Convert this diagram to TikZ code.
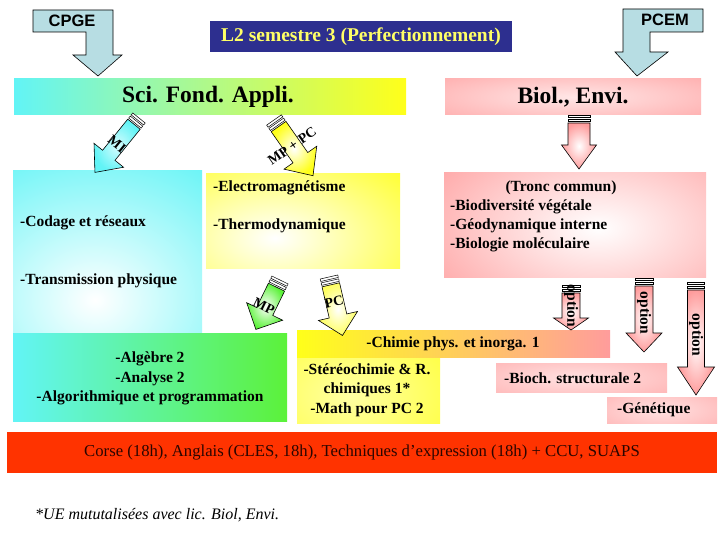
\documentclass[tikz,border=0pt]{standalone}
\usepackage{fontspec}
\setmainfont{Liberation Serif}
\newfontfamily\sansfam{Liberation Sans}
\definecolor{cyanc}{HTML}{62F4F6}
\definecolor{cyanl}{HTML}{D8FCFE}
\definecolor{yellowc}{HTML}{FFFF1A}
\definecolor{pinkc}{HTML}{FF9C9C}
\definecolor{greenc}{HTML}{5CF23A}
\definecolor{orangec}{HTML}{FFC27A}
\definecolor{scimid}{HTML}{E4FFDC}
\definecolor{titleblue}{HTML}{2D2F8F}
\definecolor{titleyellow}{HTML}{FFFF66}
\definecolor{arrowblue}{HTML}{B7DDE3}
\definecolor{redc}{HTML}{FF3300}
\definecolor{bartext}{HTML}{2A0500}

\newcommand{\blockarr}[8]{%
  \begin{scope}[shift={(#1,#2)},rotate=#3]
    \path[#8] (8,#5) -- ({#4-#7},#5) -- ({#4-#7},#6) -- (#4,0) -- ({#4-#7},-#6) -- ({#4-#7},-#5) -- (8,-#5) -- cycle;
    \draw[stripe] (0,#5) rectangle (2.5,-#5);
    \draw[stripe] (4,#5) rectangle (6.5,-#5);
  \end{scope}}

\newcommand{\hlbox}[7]{%
  \fill[#3] #1 rectangle #2;
  \begin{scope}
    \clip #1 rectangle #2;
    \shade[inner color=#4, outer color=#3] #5 ellipse (#6pt and #7pt);
  \end{scope}}

\begin{document}
\begin{tikzpicture}[x=1pt,y=-1pt,
  bodytxt/.style={font=\bfseries\fontsize{15.5pt}{19.5pt}\selectfont, inner sep=0pt},
  bigtxt/.style={font=\bfseries\fontsize{23.5pt}{28pt}\selectfont, inner sep=0pt},
  arrlbl/.style={font=\bfseries\fontsize{14pt}{16pt}\selectfont, inner sep=0pt},
  sanslbl/.style={font=\sansfam\bfseries\fontsize{16.5pt}{18pt}\selectfont, inner sep=0pt},
  stripe/.style={draw=black, line width=0.5pt, fill=white},
  outl/.style={draw=black, line width=0.6pt}]
\useasboundingbox (0,0) rectangle (720,540);
\fill[white] (0,0) rectangle (720,540);

% ---- bars and boxes
\path[left color=cyanc, middle color=scimid, right color=yellowc] (14,79) rectangle (406,115);
\hlbox{(445,79)}{(701,115)}{pinkc}{pinkc!25!white}{(573,97)}{240}{40}
\hlbox{(13,171)}{(202,333)}{cyanc}{white}{(95,300)}{200}{170}
\hlbox{(206,174)}{(400,268)}{yellowc}{white}{(275,238)}{190}{110}
\hlbox{(444,173)}{(706,277)}{pinkc}{white}{(598,228)}{220}{120}
\path[left color=cyanc, right color=greenc] (13,333) rectangle (287,421);
\hlbox{(297,330)}{(440,423)}{yellowc}{yellowc!40!white}{(350,395)}{160}{110}
\path[left color=yellowc, middle color=orangec, right color=pinkc] (297,330) rectangle (610,357);
\hlbox{(496,363)}{(667,392)}{pinkc}{pinkc!30!white}{(575,378)}{200}{40}
\hlbox{(607,397)}{(717,423)}{pinkc}{pinkc!30!white}{(660,410)}{130}{40}
\fill[redc] (7,432) rectangle (717,473);

% ---- entry arrows
\draw[outl, fill=arrowblue] (33,10) -- (113,10) -- (113,55) -- (122,55) -- (98,76) -- (73,55) -- (86,55) -- (86,32) -- (33,32) -- cycle;
\draw[outl, fill=arrowblue] (623,9) -- (703,9) -- (703,32) -- (650,32) -- (650,52) -- (668,52) -- (637,76) -- (615,52) -- (623,52) -- cycle;

% ---- block arrows
\blockarr{139}{118}{231}{70}{8}{19}{22}{outl, inner color=cyanl, outer color=cyanc}
\blockarr{274}{120}{305}{68}{9}{20}{22}{outl, inner color=white, outer color=yellowc}
\blockarr{280}{280}{244}{55}{9}{20}{20}{outl, inner color=white, outer color=greenc}
\blockarr{329}{277}{283}{60}{9}{20}{20}{outl, inner color=white, outer color=yellowc!70!white}
\blockarr{579}{115}{270}{54}{11}{17.5}{24}{outl, inner color=white, outer color=pinkc}
\blockarr{571}{285}{270}{45}{9}{17.5}{12}{outl, inner color=white, outer color=pinkc}
\blockarr{644}{278}{270}{74}{9}{18}{19}{outl, inner color=white, outer color=pinkc}
\blockarr{696}{282}{270}{113}{8.5}{18.5}{28}{outl, inner color=white, outer color=pinkc}

% ---- texts
\node[sanslbl] (cpge) at (72,21) {CPGE};
\node[sanslbl] (pcem) at (665,20) {PCEM};
\node[font=\bfseries\fontsize{19.5pt}{22pt}\selectfont, fill=titleblue, text=titleyellow, minimum width=302pt, minimum height=31pt, inner sep=0pt] (title) at (361,36.5) {L2 semestre 3 (Perfectionnement)};
\node[bigtxt] (scit) at (208,97) {Sci. Fond. Appli.};
\node[bigtxt] (biolt) at (573,97) {Biol., Envi.};

\node[arrlbl, rotate=-39] (mi) at (117,144) {MI};
\node[arrlbl, rotate=35] (mppc) at (292,146) {MP + PC};
\node[arrlbl, rotate=-26] (mp) at (264,306) {MP};
\node[arrlbl, rotate=13] (pc) at (334,302) {PC};
\node[bodytxt, rotate=-90] (opt1) at (571,306) {option};
\node[bodytxt, rotate=-90] (opt2) at (644,313) {option};
\node[bodytxt, rotate=-90] (opt3) at (696,335) {option};

\node[bodytxt, anchor=west] (codage) at (20,223) {-Codage et réseaux};
\node[bodytxt, anchor=west] (trans) at (20,281) {-Transmission physique};
\node[bodytxt, anchor=west] (electro) at (213,188) {-Electromagnétisme};
\node[bodytxt, anchor=west] (thermo) at (213,226) {-Thermodynamique};
\node[bodytxt] (tronc) at (561,188) {(Tronc commun)};
\node[bodytxt, anchor=west] (biodiv) at (450,207) {-Biodiversité végétale};
\node[bodytxt, anchor=west] (geody) at (450,226) {-Géodynamique interne};
\node[bodytxt, anchor=west] (biomol) at (450,245) {-Biologie moléculaire};
\node[bodytxt] (alg) at (150,359) {-Algèbre 2};
\node[bodytxt] (ana) at (150,379) {-Analyse 2};
\node[bodytxt] (algo) at (150,398) {-Algorithmique et programmation};
\node[bodytxt] (chim) at (453,344) {-Chimie phys. et inorga. 1};
\node[bodytxt, align=center] (stereo) at (367,390) {-Stéréochimie \& R.\\chimiques 1*\\-Math pour PC 2};
\node[bodytxt, anchor=west] (bioch) at (504,378) {-Bioch. structurale 2};
\node[bodytxt, anchor=west] (gene) at (617,410) {-Génétique};
\node[font=\fontsize{16.7pt}{19pt}\selectfont, text=bartext, inner sep=0pt] (corse) at (362,453) {Corse (18h), Anglais (CLES, 18h), Techniques d’expression (18h) + CCU, SUAPS};
\node[font=\itshape\fontsize{16pt}{19pt}\selectfont, anchor=west, inner sep=0pt] (foot) at (35,515) {*UE mututalisées avec lic. Biol, Envi.};
\end{tikzpicture}
\end{document}
